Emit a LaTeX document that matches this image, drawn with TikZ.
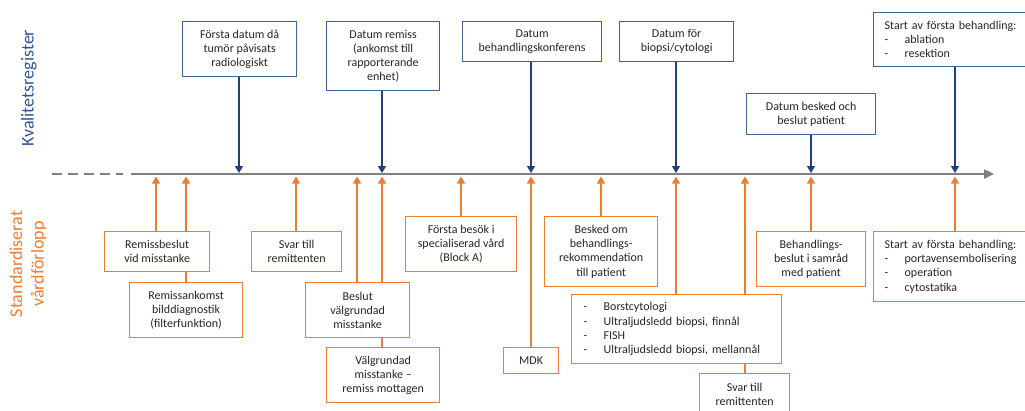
\documentclass[tikz,border=0pt]{standalone}
\usepackage{fontspec}
\setmainfont{Carlito}
\usetikzlibrary{arrows.meta,backgrounds}
\definecolor{bbord}{RGB}{65,100,150}
\definecolor{barrow}{RGB}{31,64,120}
\definecolor{ora}{RGB}{237,125,49}
\definecolor{tlgray}{RGB}{128,128,128}
\definecolor{txt}{RGB}{38,38,38}
\definecolor{kvblue}{RGB}{47,85,151}
\begin{document}
\begin{tikzpicture}[x=1pt,y=-1pt,
  font=\fontsize{12}{14.2}\selectfont,
  box/.style={line width=1.3pt, fill=white, inner sep=0pt, align=center, text=txt, anchor=north west},
  bbox/.style={box, draw=bbord},
  obox/.style={box, draw=ora},
  barr/.style={draw=barrow, line width=1.2pt, -{Triangle[width=8pt,length=7pt]}},
  oarr/.style={draw=ora, line width=1.2pt, -{Triangle[width=8pt,length=7pt]}},
  tline/.style={draw=tlgray, line width=2.3pt},
  sidelabel/.style={rotate=90, font=\fontsize{18}{21.5}\selectfont, align=center}]
\useasboundingbox (0,0) rectangle (1025,410);

% side labels
\node[sidelabel, text=kvblue] (kv) at (29,88) {Kvalitetsregister};
\node[sidelabel, text=ora] (sv) at (28,264) {Standardiserat\\vårdförlopp};

% timeline
\coordinate (tdA) at (52,174);
\coordinate (tdB) at (123,174);
\coordinate (tsA) at (131,174);
\coordinate (tsB) at (994,174);
\draw[tline, dash pattern=on 10pt off 6pt] (tdA) -- (tdB);
\draw[tline, -{Triangle[width=9pt,length=10pt]}] (tsA) -- (tsB);

% blue boxes
\node[bbox, minimum width=114pt, minimum height=55pt] (b1) at (182,21) {Första datum då\\tumör påvisats\\radiologiskt};
\node[bbox, minimum width=113pt, minimum height=69pt] (b2) at (326,21) {Datum remiss\\(ankomst till\\rapporterande\\enhet)};
\node[bbox, minimum width=139pt, minimum height=40pt] (b3) at (462,21) {Datum\\behandlingskonferens};
\node[bbox, minimum width=114pt, minimum height=40pt] (b4) at (619,21) {Datum för\\biopsi/cytologi};
\node[bbox, minimum width=129pt, minimum height=41pt] (b5) at (746,93) {Datum besked och\\beslut patient};
\node[bbox, minimum width=155pt, minimum height=54pt, text width=133pt, align=left] (b6) at (873,12) {Start av första behandling:\\\makebox[20pt][l]{-}ablation\\\makebox[20pt][l]{-}resektion};

% orange boxes
\node[obox, minimum width=105pt, minimum height=40pt] (o1) at (104,231) {Remissbeslut\\vid misstanke};
\node[obox, minimum width=113pt, minimum height=55pt] (o2) at (129,282) {Remissankomst\\bilddiagnostik\\(filterfunktion)};
\node[obox, minimum width=90pt, minimum height=40pt] (o3) at (251,231) {Svar till\\remittenten};
\node[obox, minimum width=104pt, minimum height=55pt] (o4) at (305,282) {Beslut\\välgrundad\\misstanke};
\node[obox, minimum width=113pt, minimum height=55pt] (o5) at (326,347) {Välgrundad\\misstanke –\\remiss mottagen};
\node[obox, minimum width=111pt, minimum height=55pt] (o6) at (405,216) {Första besök i\\specialiserad vård\\(Block A)};
\node[obox, minimum width=55pt, minimum height=26pt] (o7) at (503,347) {MDK};
\node[obox, minimum width=113pt, minimum height=70pt] (o8) at (544,216) {Besked om\\behandlings-\\rekommendation\\till patient};
\node[obox, minimum width=210pt, minimum height=69pt, text width=186pt, align=left] (o9) at (571,294) {\makebox[20pt][l]{-}Borstcytologi\\\makebox[20pt][l]{-}Ultraljudsledd biopsi, finnål\\\makebox[20pt][l]{-}FISH\\\makebox[20pt][l]{-}Ultraljudsledd biopsi, mellannål};
\node[obox, minimum width=90pt, minimum height=42pt] (o10) at (699,373) {Svar till\\remittenten};
\node[obox, minimum width=109pt, minimum height=55pt] (o11) at (756,231) {Behandlings-\\beslut i samråd\\med patient};
\node[obox, minimum width=155pt, minimum height=70pt, text width=133pt, align=left] (o12) at (873,231) {Start av första behandling:\\\makebox[20pt][l]{-}portavensembolisering\\\makebox[20pt][l]{-}operation\\\makebox[20pt][l]{-}cytostatika};

% arrow end points on the timeline
\coordinate (tb1) at (239,173);
\coordinate (tb2) at (382,173);
\coordinate (tb3) at (531,173);
\coordinate (tb4) at (676,173);
\coordinate (tb5) at (811,173);
\coordinate (tb6) at (955,173);
\coordinate (to1) at (156,176.5);
\coordinate (to2) at (186,176.5);
\coordinate (to3) at (296,176.5);
\coordinate (to4) at (357,176.5);
\coordinate (to5) at (382,176.5);
\coordinate (to6) at (461,176.5);
\coordinate (to7) at (531,176.5);
\coordinate (to8) at (601,176.5);
\coordinate (to9) at (676,176.5);
\coordinate (to10) at (745,176.5);
\coordinate (to11) at (811,176.5);
\coordinate (to12) at (955,176.5);

\begin{scope}[on background layer]
\draw[barr] (b1.south -| tb1) -- (tb1);
\draw[barr] (b2.south -| tb2) -- (tb2);
\draw[barr] (b3.south -| tb3) -- (tb3);
\draw[barr] (b4.south -| tb4) -- (tb4);
\draw[barr] (b5.south -| tb5) -- (tb5);
\draw[barr] (b6.south -| tb6) -- (tb6);
\draw[oarr] (o1.north -| to1) -- (to1);
\draw[oarr] (o2.north -| to2) -- (to2);
\draw[oarr] (o3.north -| to3) -- (to3);
\draw[oarr] (o4.north -| to4) -- (to4);
\draw[oarr] (o5.north -| to5) -- (to5);
\draw[oarr] (o6.north -| to6) -- (to6);
\draw[oarr] (o7.north -| to7) -- (to7);
\draw[oarr] (o8.north -| to8) -- (to8);
\draw[oarr] (o9.north -| to9) -- (to9);
\draw[oarr] (o10.north -| to10) -- (to10);
\draw[oarr] (o11.north -| to11) -- (to11);
\draw[oarr] (o12.north -| to12) -- (to12);
\end{scope}
\end{tikzpicture}
\end{document}
